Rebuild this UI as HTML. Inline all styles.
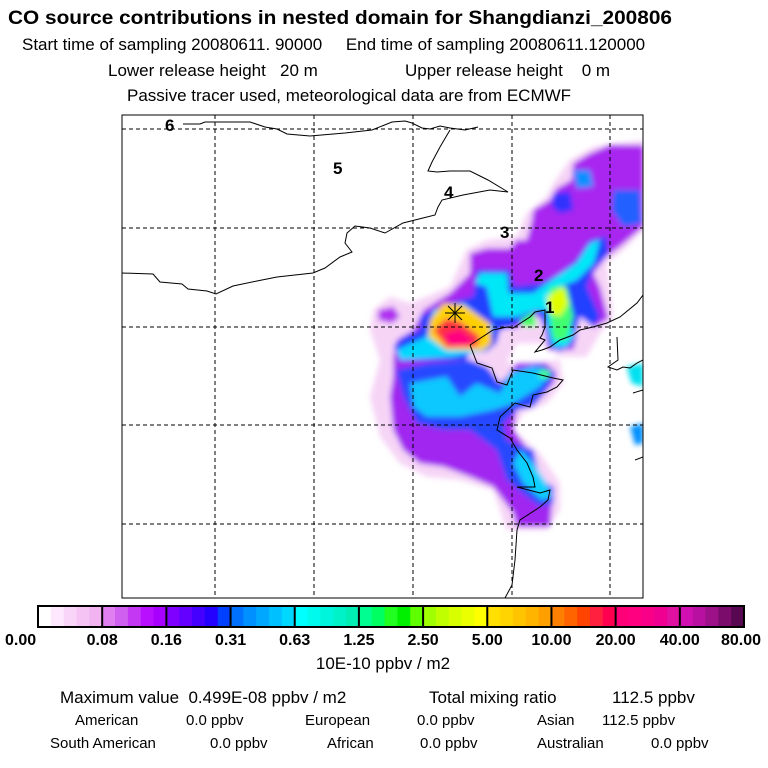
<!DOCTYPE html>
<html><head><meta charset="utf-8"><style>
html,body{margin:0;padding:0;background:#fff;}
svg{display:block;font-family:"Liberation Sans",Arial,sans-serif;}
</style></head><body>
<svg id="fig" width="768" height="768" viewBox="0 0 768 768" xmlns="http://www.w3.org/2000/svg">
<defs>
<filter id="bl" x="-20%" y="-20%" width="140%" height="140%"><feGaussianBlur stdDeviation="8"/></filter>
<clipPath id="frameclip"><rect x="122" y="115" width="521" height="483"/></clipPath>
</defs>
<text x="8" y="24" font-size="19" font-weight="bold" textLength="664" lengthAdjust="spacingAndGlyphs">CO  source contributions in nested domain for Shangdianzi_200806</text>
<text x="22" y="50" font-size="17" xml:space="preserve">Start time of sampling 20080611. 90000     End time of sampling 20080611.120000</text>
<text x="108" y="76" font-size="17" xml:space="preserve">Lower release height   20 m</text>
<text x="405" y="76" font-size="17" xml:space="preserve">Upper release height    0 m</text>
<text x="127" y="101" font-size="17">Passive tracer used, meteorological data are from ECMWF</text>

<g clip-path="url(#frameclip)">
<g transform="translate(360,130) scale(0.33333)">
<g filter="url(#bl)">
<path d="M40,540 L90,500 L150,520 L200,500 L270,470 L320,360 L380,330 L470,320 L500,250 L560,200 L580,160 L630,90 L700,50 L850,30 L850,300 L790,360 L740,400 L760,560 L720,610 L680,680 L600,680 L540,640 L470,640 L440,700 L600,690 L610,760 L560,820 L490,850 L460,900 L540,970 L600,1060 L600,1140 L560,1200 L440,1200 L400,1080 L300,1050 L200,1040 L120,1000 L60,920 L30,800 L60,690 L30,600 Z" fill="#f6d4f6"/>
<path d="M515,275 L520,240 L570,210 L590,175 L635,150 L640,100 L690,70 L750,45 L850,45 L850,290 L780,350 L740,380 L700,430 L720,470 L745,565 L700,595 L680,560 L655,540 L645,600 L650,620 L640,660 L565,660 L555,600 L540,560 L510,560 L470,595 L400,595 L405,640 L380,665 L330,665 L300,690 L180,690 L100,680 L110,630 L160,600 L190,540 L270,490 L330,430 L330,370 L380,355 L450,355 L470,330 L500,330 Z" fill="#a828f0"/>
<path d="M100,680 L180,690 L300,690 L330,690 L390,720 L420,760 L440,740 L470,700 L560,700 L590,730 L580,760 L520,830 L470,840 L460,900 L520,980 L530,1040 L580,1080 L570,1190 L470,1190 L460,1150 L400,1070 L330,1040 L250,1010 L180,1000 L130,960 L100,900 L90,800 L100,740 Z" fill="#a028f0"/>
<path d="M55,540 L100,530 L120,560 L95,580 L55,570 Z" fill="#b030f0"/>
<path d="M180,560 L260,520 L340,500 L350,420 L450,420 L460,470 L540,460 L600,430 L650,390 L690,330 L740,320 L745,370 L700,420 L680,470 L720,560 L700,590 L660,560 L640,640 L600,665 L565,650 L555,590 L530,545 L500,560 L460,590 L420,600 L410,640 L380,665 L330,665 L320,690 L130,690 L100,650 L130,620 L180,600 Z" fill="#2040ff"/>
<path d="M110,720 L200,700 L330,690 L380,710 L420,760 L460,720 L540,700 L585,730 L560,780 L520,830 L470,840 L430,880 L440,930 L520,960 L540,1050 L580,1070 L580,1120 L540,1130 L500,1100 L440,1050 L410,960 L330,900 L250,900 L170,880 L130,800 Z" fill="#2848ff"/>
<path d="M580,190 L630,185 L640,240 L600,250 L575,230 Z" fill="#3030ff"/>
<path d="M760,180 L840,180 L845,280 L790,290 L755,240 Z" fill="#2060ff"/>
<path d="M640,120 L690,120 L700,170 L650,175 Z" fill="#1090ff"/>
<path d="M360,430 L440,430 L445,490 L520,490 L590,440 L650,400 L690,340 L720,330 L700,400 L650,450 L600,470 L600,540 L630,560 L640,620 L620,650 L580,650 L565,590 L560,540 L520,540 L470,560 L400,560 L380,470 L345,460 Z" fill="#00e8f8"/>
<path d="M220,540 L310,520 L400,590 L380,660 L280,680 L120,690 L110,660 L200,620 Z" fill="#00d8ff"/>
<path d="M150,760 L260,740 L300,800 L350,760 L420,790 L450,730 L520,710 L570,730 L540,770 L460,820 L400,840 L300,860 L200,860 L160,830 Z" fill="#10c8ff"/>
<path d="M480,960 L520,1000 L560,1060 L575,1100 L545,1110 L490,1060 L460,1000 Z" fill="#10d0ff"/>
<path d="M800,710 L850,700 L850,770 L815,760 Z" fill="#00e0f0"/>
<path d="M810,890 L850,880 L850,940 L825,945 Z" fill="#0090ff"/>
<path d="M480,570 L520,545 L530,590 L490,590 Z" fill="#40ff60"/>
<path d="M570,470 L620,470 L640,560 L620,630 L580,630 L570,560 Z" fill="#40ff70"/>
<path d="M540,715 L575,725 L560,750 L535,740 Z" fill="#40ff90"/>
<path d="M560,500 L610,470 L625,520 L600,560 L570,550 Z" fill="#e0ff00"/>
<path d="M210,570 L250,520 L310,525 L390,580 L395,640 L370,660 L260,660 L205,620 Z" fill="#ffd000"/>
<path d="M220,600 L260,565 L300,575 L360,620 L350,650 L260,652 Z" fill="#ff3040"/>
<path d="M250,612 L300,598 L340,630 L320,650 L270,650 Z" fill="#ff0080"/>
</g>
</g>
</g>

<g fill="none" stroke="#000" stroke-width="1" stroke-dasharray="4,3">
<line x1="215" y1="115" x2="215" y2="598"/><line x1="314" y1="115" x2="314" y2="598"/><line x1="413" y1="115" x2="413" y2="598"/><line x1="512" y1="115" x2="512" y2="598"/><line x1="610" y1="115" x2="610" y2="598"/>
<line x1="122" y1="129" x2="643" y2="129"/><line x1="122" y1="228" x2="643" y2="228"/><line x1="122" y1="327" x2="643" y2="327"/><line x1="122" y1="425" x2="643" y2="425"/><line x1="122" y1="524" x2="643" y2="524"/>
</g>

<g fill="none" stroke="#000" stroke-width="1" clip-path="url(#frameclip)">
<polyline points="183,124 200,124 205,122 250,122 265,127 277,129 287,134 310,136 345,133 372,130 392,122 405,121 412,123 422,128 430,129 440,126 450,128 465,130 478,127"/>
<polyline points="450,130 440,147 432,162 428,171 437,172 450,171 470,171 488,180 508,192"/>
<polyline points="122,273 153,274 160,282 182,284 188,289 207,291 216,294 233,286 257,281 277,277 313,273 325,268 340,257 352,252 345,243 347,233 355,226 370,228 385,233 403,223 423,218 435,215 438,207 442,200 463,195 490,190 508,192"/>
<polyline points="470,345 477,363 492,368 497,382 507,385 513,370 533,373 553,378 563,380 557,387 547,392 533,395 530,407 515,403 500,417 497,430 510,438 517,450 527,463 533,477 535,487 517,487 540,493 550,490 548,500 540,507 520,520 517,530 515,560 512,585 505,598"/>
<polyline points="470,345 493,330 507,327 513,328 530,317 535,312 545,310 545,327 542,335 540,338 545,340 535,352 542,350 550,347 560,340 573,335 580,330 593,327 607,323 620,317 637,303 643,295"/>
<polyline points="617,337 618,360 608,367 617,370 623,367 630,368 637,363 643,360"/>
<polyline points="633,393 643,390"/>
<polyline points="635,460 643,457"/>
</g>

<g stroke="#000" stroke-width="1">
<line x1="445" y1="313" x2="465" y2="313"/><line x1="455" y1="303" x2="455" y2="323"/><line x1="448" y1="306" x2="462" y2="320"/><line x1="462" y1="306" x2="448" y2="320"/>
</g>
<g font-size="17" font-weight="bold">
<text x="545" y="313">1</text>
<text x="534" y="281">2</text>
<text x="500" y="238">3</text>
<text x="444" y="198">4</text>
<text x="333" y="174">5</text>
<text x="165" y="131">6</text>
</g>
<rect x="122" y="115" width="521" height="483" fill="none" stroke="#000" stroke-width="1"/>

<g id="cbar"></g>
<text x="383" y="669" font-size="17" text-anchor="middle">10E-10 ppbv / m2</text>

<g font-size="17">
<text x="60" y="703" xml:space="preserve">Maximum value  0.499E-08 ppbv / m2</text>
<text x="429" y="703">Total mixing ratio</text>
<text x="612" y="703">112.5 ppbv</text>
</g>
<g font-size="15">
<text x="75" y="725">American</text>
<text x="186" y="725">0.0 ppbv</text>
<text x="305" y="725">European</text>
<text x="417" y="725">0.0 ppbv</text>
<text x="537" y="725">Asian</text>
<text x="602" y="725">112.5 ppbv</text>
<text x="50" y="748">South American</text>
<text x="210" y="748">0.0 ppbv</text>
<text x="327" y="748">African</text>
<text x="420" y="748">0.0 ppbv</text>
<text x="537" y="748">Australian</text>
<text x="651" y="748">0.0 ppbv</text>
</g>
</svg>
<script>
const levelLabels = ["0.00","0.08","0.16","0.31","0.63","1.25","2.50","5.00","10.00","20.00","40.00","80.00"];
const segmentColors = [
 ["#ffffff","#fde8fd","#f9d6f9","#f5c4f5","#f1b4f1"],
 ["#e080f0","#d060f0","#c438f4","#b810ff","#a800ff"],
 ["#8000ff","#6400ff","#4400ff","#2400ff","#0040ff"],
 ["#0070ff","#0090ff","#00a8ff","#00c0ff","#00d8ff"],
 ["#00ffff","#00fbee","#00f6dc","#00f2c8","#00eeb4"],
 ["#00ff90","#00ff60","#20ff20","#00f000","#60ff00"],
 ["#a0ff00","#c0ff00","#d8ff00","#ecff00","#ffff00"],
 ["#ffe000","#ffd400","#ffc400","#ffb400","#ffa000"],
 ["#ff8000","#ff6400","#ff4400","#ff2040","#ff0050"],
 ["#ff0078","#ff0080","#f80088","#f00090","#e010a0"],
 ["#d010b0","#b810a0","#9c1088","#7c0c6c","#580850"]
];
(function(){
 const NS="http://www.w3.org/2000/svg";
 const g=document.getElementById('cbar');
 const x0=38,x1=744,y0=606,h=21;
 const n=segmentColors.length;
 const sw=(x1-x0)/n;
 const xs=i=>x0+i*sw;
 segmentColors.forEach((cols,i)=>{
  cols.forEach((c,j)=>{
   const r=document.createElementNS(NS,'rect');
   r.setAttribute('x',xs(i)+j*sw/cols.length);
   r.setAttribute('y',y0);
   r.setAttribute('width',sw/cols.length+0.6);
   r.setAttribute('height',h);
   r.setAttribute('fill',c);
   
   
   g.appendChild(r);
  });
  if(i>0){
   const l=document.createElementNS(NS,'line');
   l.setAttribute('x1',xs(i));l.setAttribute('x2',xs(i));
   l.setAttribute('y1',y0);l.setAttribute('y2',y0+h);
   l.setAttribute('stroke','#000');l.setAttribute('stroke-width','2');
   
   
   g.appendChild(l);
  }
 });
 const b=document.createElementNS(NS,'rect');
 b.setAttribute('x',x0);b.setAttribute('y',y0);b.setAttribute('width',x1-x0);b.setAttribute('height',h);
 b.setAttribute('fill','none');b.setAttribute('stroke','#000');b.setAttribute('stroke-width','2');
 
 
 g.appendChild(b);
 levelLabels.forEach((lab,i)=>{
  const t=document.createElementNS(NS,'text');
  let x=xs(i),anchor='middle';
  if(i===0){x=5;anchor='start';}
  if(i===levelLabels.length-1){x=761;anchor='end';}
  t.setAttribute('x',x);t.setAttribute('y',645);
  t.setAttribute('text-anchor',anchor);
  t.setAttribute('font-size','16');t.setAttribute('font-weight','bold');
  
  
  t.textContent=lab;
  g.appendChild(t);
 });
})();
</script>
</body></html>
